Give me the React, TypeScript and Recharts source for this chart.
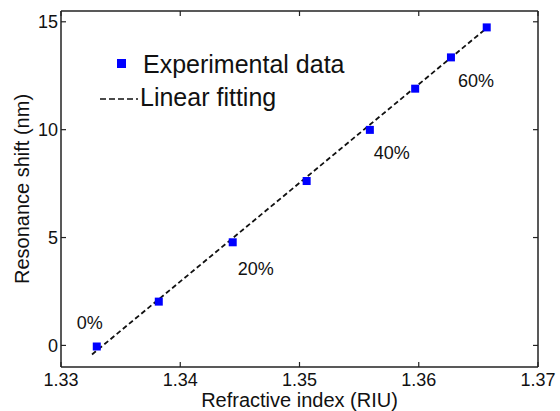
import React from 'react';
import { ComposedChart, XAxis, YAxis, Scatter, Line, Legend } from 'recharts';

const refractiveIndex = [1.333, 1.3382, 1.3444, 1.3506, 1.3559, 1.3597, 1.3627, 1.3657];
const resonanceShift = [-0.05, 2.03, 4.78, 7.62, 9.99, 11.9, 13.35, 14.74];
const concentrationLabels = ['0%', '', '20%', '', '40%', '', '60%', ''];
const fitIndex = [1.3326, 1.3659];
const fitShift = [-0.42, 14.8];
const xTicks = [1.33, 1.34, 1.35, 1.36, 1.37];
const yTicks = [0, 5, 10, 15];

const expData = refractiveIndex.map((x, i) => ({ x, y: resonanceShift[i], label: concentrationLabels[i] }));
const fitData = fitIndex.map((x, i) => ({ x, y: fitShift[i] }));

const FONT = '"Liberation Sans", Arial, Helvetica, sans-serif';
const AXIS = '#222';
const labelOffsets: Record<string, [number, number]> = {
  '0%': [-7, -24],
  '20%': [23, 26],
  '40%': [22, 23],
  '60%': [25, 23],
};

const SquareWithLabel = (props: any) => {
  const { cx, cy, payload } = props;
  const off = labelOffsets[payload.label];
  return (
    <g>
      <rect x={cx - 4} y={cy - 4} width={8} height={8} fill="#0000ff" />
      {off && (
        <text x={cx + off[0]} y={cy + off[1]} dy="0.35em" textAnchor="middle" fontSize={18} fill="#111" fontFamily={FONT}>
          {payload.label}
        </text>
      )}
    </g>
  );
};

const LegendBox = () => (
  <svg width={270} height={75} style={{ display: 'block' }}>
    <rect x={22} y={14} width={9} height={9} fill="#0000ff" />
    <text x={48} y={28} fontSize={25} fill="#111" fontFamily={FONT}>Experimental data</text>
    <line x1={5} x2={43} y1={54} y2={54} stroke="#111" strokeWidth={1.6} strokeDasharray="6 3" />
    <text x={45} y={61} fontSize={25} fill="#111" fontFamily={FONT}>Linear fitting</text>
  </svg>
);

export default function App() {
  const tickStyle = { fontSize: 18, fill: '#111', fontFamily: FONT };
  return (
    <div style={{ position: 'absolute', left: 0, top: 0, width: 560, height: 411, background: '#fff' }}>
      <ComposedChart width={560} height={411} margin={{ top: 10, right: 21, left: 0, bottom: 0 }} style={{ fontFamily: FONT }}>
        <XAxis
          type="number"
          dataKey="x"
          domain={[1.33, 1.37]}
          ticks={xTicks}
          allowDataOverflow
          height={44}
          tickSize={-5}
          tickMargin={11}
          tick={tickStyle}
          tickFormatter={(v: number) => v.toFixed(2)}
          axisLine={{ stroke: AXIS, strokeWidth: 1.5 }}
          tickLine={{ stroke: AXIS, strokeWidth: 1.2 }}
          label={{ value: 'Refractive index (RIU)', position: 'insideBottom', offset: 4, fontSize: 20, fill: '#111', fontFamily: FONT }}
        />
        <XAxis
          xAxisId="top"
          orientation="top"
          type="number"
          dataKey="x"
          domain={[1.33, 1.37]}
          ticks={xTicks}
          allowDataOverflow
          height={1}
          tickSize={-5}
          tickFormatter={() => ''}
          axisLine={{ stroke: AXIS, strokeWidth: 1.5 }}
          tickLine={{ stroke: AXIS, strokeWidth: 1.2 }}
        />
        <YAxis
          type="number"
          dataKey="y"
          domain={[-1, 15.5]}
          ticks={yTicks}
          allowDataOverflow
          width={61}
          tickSize={-5}
          tickMargin={8}
          tick={tickStyle}
          axisLine={{ stroke: AXIS, strokeWidth: 1.5 }}
          tickLine={{ stroke: AXIS, strokeWidth: 1.2 }}
          label={{ value: 'Resonance shift (nm)', angle: -90, position: 'insideLeft', offset: 22, fontSize: 20, fill: '#111', fontFamily: FONT, style: { textAnchor: 'middle' } }}
        />
        <YAxis
          yAxisId="right"
          orientation="right"
          type="number"
          dataKey="y"
          domain={[-1, 15.5]}
          ticks={yTicks}
          allowDataOverflow
          width={1}
          tickSize={-5}
          tickFormatter={() => ''}
          axisLine={{ stroke: AXIS, strokeWidth: 1.5 }}
          tickLine={{ stroke: AXIS, strokeWidth: 1.2 }}
        />
        <Legend
          layout="horizontal"
          verticalAlign="middle"
          align="center"
          content={() => <LegendBox />}
          wrapperStyle={{ left: 95, top: 45, width: 270, height: 75 }}
        />
        <Line
          data={fitData}
          dataKey="y"
          type="linear"
          stroke="#111"
          strokeWidth={1.8}
          strokeDasharray="5 3"
          dot={false}
          activeDot={false}
          legendType="none"
          isAnimationActive={false}
        />
        <Scatter data={expData} dataKey="y" shape={SquareWithLabel} isAnimationActive={false} legendType="none" />
      </ComposedChart>
    </div>
  );
}
